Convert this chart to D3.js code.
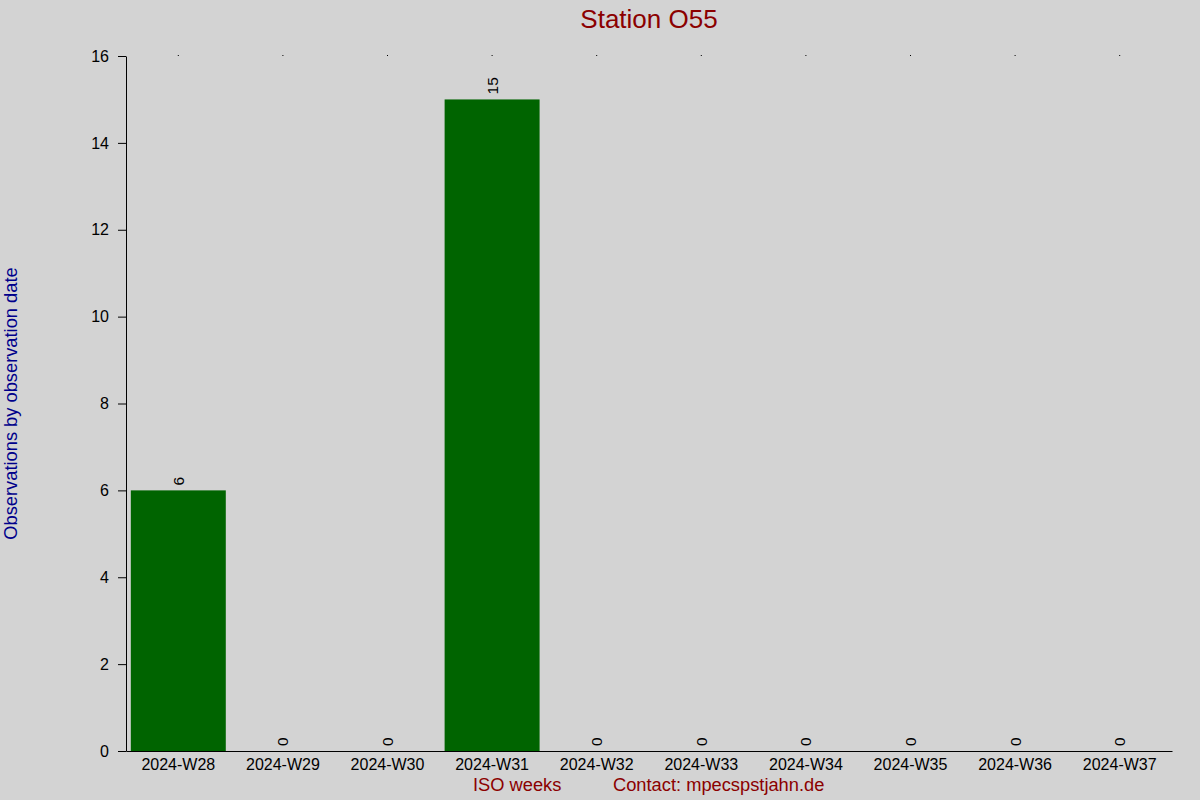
<!DOCTYPE html>
<html>
<head>
<meta charset="utf-8">
<script src="https://cdn.jsdelivr.net/npm/d3@7"></script>
<style>
body{margin:0;background:#d3d3d3}
svg{display:block;font-family:"Liberation Sans",Arial,sans-serif}
</style>
</head>
<body>
<div id="chart"></div>
<script>
// data
let weeks=["2024-W28","2024-W29","2024-W30","2024-W31","2024-W32","2024-W33","2024-W34","2024-W35","2024-W36","2024-W37"]
let counts=[6,0,0,15,0,0,0,0,0,0]
let yTicks=[0,2,4,6,8,10,12,14,16]

let svgWidth=1200
let svgHeight=800
let margin={
    top:56,
    right:28,
    bottom:49,
    left:126
}
let chartWidth=svgWidth-margin.left-margin.right
let chartHeight=svgHeight-margin.top-margin.bottom

let svg=d3.select("#chart")
.append("svg")
.attr("width",svgWidth)
.attr("height",svgHeight)
svg.append("rect")
.attr("width",svgWidth)
.attr("height",svgHeight)
.attr("fill","#d3d3d3")
let chartGroup=svg.append("g")
.attr("transform",`translate(${margin.left},${margin.top})`)

//Scales
let xScale=d3.scaleBand()
.domain(weeks)
.range([0,chartWidth])
.paddingInner(0.092)
.paddingOuter(0.046)
let yScale=d3.scaleLinear()
.domain([0,16])
.range([chartHeight,0])

//Axes
let bottomAxis=d3.axisBottom(xScale).tickSize(0).tickPadding(7.5).tickSizeOuter(0)
let leftAxis=d3.axisLeft(yScale).tickValues(yTicks).tickSize(8).tickPadding(9).tickSizeOuter(0)
let topAxis=d3.axisTop(xScale).tickSize(1).tickFormat("").tickSizeOuter(0)

let xg=chartGroup.append("g")
.attr("transform",`translate(0,${chartHeight})`)
.call(bottomAxis)
let yg=chartGroup.append("g")
.call(leftAxis)
let tg=chartGroup.append("g")
.call(topAxis)
tg.select(".domain").remove()
chartGroup.selectAll(".tick text")
.attr("font-size",16)
.attr("font-family","Liberation Sans, Arial, sans-serif")
.attr("fill","#000")
chartGroup.selectAll(".domain, .tick line").attr("stroke","#000")

//Bars
chartGroup.selectAll("rect.bar")
.data(counts)
.enter()
.append("rect")
.attr("class","bar")
.attr("x",(d,i)=>xScale(weeks[i]))
.attr("y",d=>yScale(d))
.attr("width",xScale.bandwidth())
.attr("height",d=>chartHeight-yScale(d))
.attr("fill","#006400")

//Value labels
chartGroup.selectAll("text.val")
.data(counts)
.enter()
.append("text")
.attr("class","val")
.attr("transform",(d,i)=>`translate(${xScale(weeks[i])+xScale.bandwidth()/2},${yScale(d)-5}) rotate(-90)`)
.attr("dy","0.35em")
.attr("font-size",15.5)
.attr("fill","#000")
.text(d=>d)

//Title
svg.append("text")
.attr("x",margin.left+chartWidth/2)
.attr("y",28)
.attr("text-anchor","middle")
.attr("font-size",26)
.attr("fill","#8b0000")
.text("Station O55")

//Axis labels
svg.append("text")
.attr("transform",`translate(17,${margin.top+chartHeight/2}) rotate(-90)`)
.attr("text-anchor","middle")
.attr("font-size",18.3)
.attr("fill","#00008b")
.text("Observations by observation date")
svg.append("text")
.attr("x",margin.left+chartWidth/2-176)
.attr("y",791)
.attr("font-size",18.3)
.attr("fill","#8b0000")
.text("ISO weeks")
svg.append("text")
.attr("x",margin.left+chartWidth/2-36)
.attr("y",791)
.attr("font-size",18.3)
.attr("fill","#8b0000")
.text("Contact: mpecspstjahn.de")
</script>
</body>
</html>
